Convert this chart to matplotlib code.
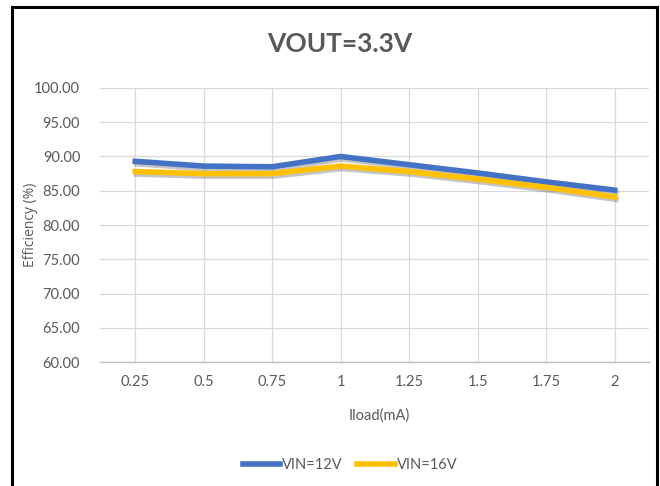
"""Efficiency vs load current for VOUT=3.3V at two input voltages."""

import matplotlib

matplotlib.use("Agg")
import matplotlib.pyplot as plt
import matplotlib.patheffects as pe
from matplotlib.patches import Rectangle

# Data
load_labels = ["0.25", "0.5", "0.75", "1", "1.25", "1.5", "1.75", "2"]
eff_vin12 = [89.3, 88.6, 88.5, 90.0, 88.8, 87.6, 86.3, 85.1]
eff_vin16 = [87.8, 87.5, 87.5, 88.6, 87.8, 86.7, 85.5, 84.1]
series_names = ["VIN=12V", "VIN=16V"]
y_ticks = [60, 65, 70, 75, 80, 85, 90, 95, 100]

BLUE = "#4472c4"
YELLOW = "#ffc000"
TEXT = "#595959"
GRID = "#d9d9d9"
NARROW = ["Lato", "DejaVu Sans"]

fig = plt.figure(figsize=(6.6, 4.86), dpi=100)
ax = fig.add_axes([0.151, 0.255, 0.832, 0.564])

x = list(range(len(load_labels)))
shadow = [pe.SimpleLineShadow(offset=(1.0, -1.8), alpha=0.3, shadow_color="#404040"), pe.Normal()]
ax.plot(x, eff_vin12, color=BLUE, linewidth=4.0, label=series_names[0],
        solid_joinstyle="round", path_effects=shadow, zorder=3)
ax.plot(x, eff_vin16, color=YELLOW, linewidth=4.0, label=series_names[1],
        solid_joinstyle="round", path_effects=shadow, zorder=4)

ax.set_xlim(-0.52, len(load_labels) - 0.5)
ax.set_ylim(60, 100)
ax.set_xticks(x)
ax.set_xticklabels(load_labels, family=NARROW, fontsize=10.5, color=TEXT)
ax.set_yticks(y_ticks)
ax.set_yticklabels([f"{v:.2f}" for v in y_ticks], family=NARROW, fontsize=10.5, color=TEXT)
ax.tick_params(axis="both", length=0)
ax.tick_params(axis="y", pad=14)
ax.tick_params(axis="x", pad=9)
ax.grid(True, color=GRID, linewidth=0.9)
ax.set_axisbelow(True)
for side in ["left", "right", "top"]:
    ax.spines[side].set_visible(False)
ax.spines["bottom"].set_color("#bfbfbf")
ax.spines["bottom"].set_linewidth(1.0)

ax.set_xlabel("Iload(mA)", family=NARROW, fontsize=10.5, color=TEXT)
ax.xaxis.set_label_coords(0.51, -0.17)
ax.set_ylabel("Efficiency (%)", family=["Open Sans", "DejaVu Sans"], fontsize=10, color=TEXT)
ax.yaxis.set_label_coords(-0.112, 0.5)

fig.text(0.515, 0.91, "VOUT=3.3V", ha="center", va="center", family=NARROW,
         fontsize=19, fontweight="bold", color=TEXT)

leg = fig.legend(loc="center", bbox_to_anchor=(0.53, 0.043), ncol=2, frameon=False,
                 handlelength=2.6, handletextpad=0.1, columnspacing=1.0,
                 prop={"family": NARROW, "size": 10.5})
for t in leg.get_texts():
    t.set_color(TEXT)
for h in leg.legend_handles:
    h.set_path_effects([])

# black frame around the chart, open at the bottom edge
fig.add_artist(Rectangle((12 / 660, -0.05), 645 / 660, 1.05 - 7 / 486,
                         transform=fig.transFigure, fill=False,
                         edgecolor="black", linewidth=2.2))

fig.savefig("out.png", dpi=100)
plt.close(fig)
